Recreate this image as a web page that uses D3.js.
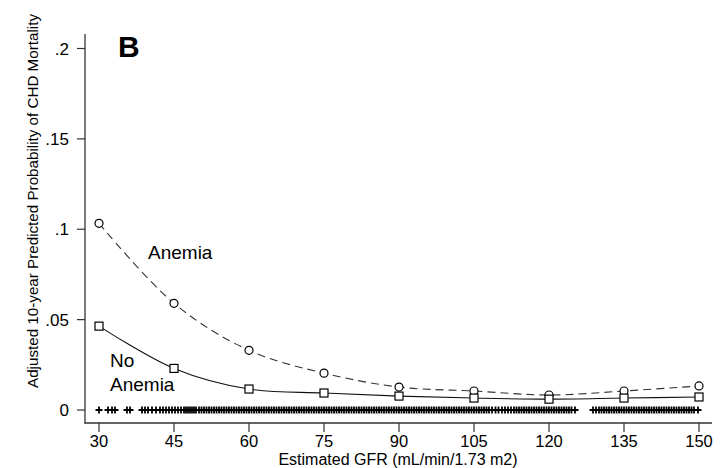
<!DOCTYPE html>
<html><head><meta charset="utf-8">
<script src="https://cdn.jsdelivr.net/npm/d3@7"></script>
<style>html,body{margin:0;padding:0;background:#fff}svg{display:block}text{font-family:"Liberation Sans",Arial,sans-serif;fill:#000}</style>
</head><body>
<script>
const gfr = [30, 45, 60, 75, 90, 105, 120, 135, 150];
const anemia = [0.1033, 0.059, 0.033, 0.0204, 0.0127, 0.0105, 0.0083, 0.0105, 0.0133];
const noAnemia = [0.0464, 0.023, 0.0116, 0.0094, 0.0077, 0.0066, 0.006, 0.0066, 0.0072];
const xTicks = [30, 45, 60, 75, 90, 105, 120, 135, 150];
const yTicks = [0, 0.05, 0.1, 0.15, 0.2];
const yTickLabels = ["0", ".05", ".1", ".15", ".2"];
const rug = [30, 31.8, 32.6, 33.2, 35.6, 36.2, 38.6, 39.2, 39.8, 40.6, 41.4, 42.2, 42.8, 43.4, 44, 44.6, 45.2, 45.8, 46.4, 47, 47.4, 47.8, 48.2, 48.6, 49, 49.4,
 50,50.5,51,51.5,52,52.5,53,53.5,54,54.5,55,55.5,56,56.5,57,57.5,58,58.5,59,59.5,
 60,60.5,61,61.5,62,62.5,63,63.5,64,64.5,65,65.5,66,66.5,67,67.5,68,68.5,69,69.5,
 70,70.5,71,71.5,72,72.5,73,73.5,74,74.5,75,75.5,76,76.5,77,77.5,78,78.5,79,79.5,
 80,80.5,81,81.5,82,82.5,83,83.5,84,84.5,85,85.5,86,86.5,87,87.5,88,88.5,89,89.5,
 90,90.5,91,91.5,92,92.5,93,93.5,94,94.5,95,95.5,96,96.5,97,97.5,98,98.5,99,99.5,
 100,100.5,101,101.5,102,102.5,103,103.5,104,104.5,105,105.5,106,106.5,107,107.5,108,108.6,109.3,109.9,
 110.6,111.2,111.8,112.4,113,113.5,114,114.5,115,115.5,116,116.5,117,117.5,118,118.5,119,119.5,
 120,120.5,121,121.5,122,122.5,123,123.5,124,124.5,125.2,
 128.8,129.4,130,130.5,131,131.5,132,132.5,133,133.5,134,134.5,135,135.5,136,136.5,137,137.5,138,138.5,139,139.5,
 140,140.5,141,141.5,142,142.5,143,143.5,144,144.5,145,145.5,146,146.5,147,147.5,148,148.5,149,149.8];

const W = 724, H = 468;
const svg = d3.select("body").append("svg").attr("width", W).attr("height", H);

const x = d3.scaleLinear().domain([30, 150]).range([99, 699]);
const y = d3.scaleLinear().domain([0, 0.2]).range([410, 48.5]);

// axes frame
const axisColor = "#333";
svg.append("line").attr("x1", 85).attr("x2", 85).attr("y1", 34).attr("y2", 423.5).attr("stroke", axisColor).attr("stroke-width", 1.3);
svg.append("line").attr("x1", 84.5).attr("x2", 712).attr("y1", 423).attr("y2", 423).attr("stroke", axisColor).attr("stroke-width", 1.3);

// y ticks
yTicks.forEach((t, i) => {
  svg.append("line").attr("x1", 77).attr("x2", 85).attr("y1", y(t)).attr("y2", y(t)).attr("stroke", axisColor).attr("stroke-width", 1.2);
  svg.append("text").attr("x", 69).attr("y", y(t)).attr("dy", "0.36em").attr("text-anchor", "end")
    .style("font-size", "17px").text(yTickLabels[i]);
});
// x ticks
xTicks.forEach(t => {
  svg.append("line").attr("x1", x(t)).attr("x2", x(t)).attr("y1", 423).attr("y2", 432).attr("stroke", axisColor).attr("stroke-width", 1.2);
  svg.append("text").attr("x", x(t)).attr("y", 446.5).attr("text-anchor", "middle")
    .style("font-size", "16.5px").text(t);
});

// titles
svg.append("text").attr("x", 398).attr("y", 464.5).attr("text-anchor", "middle")
  .style("font-size", "16px")
  .text("Estimated GFR (mL/min/1.73 m2)");
svg.append("text").attr("transform", "translate(38,201) rotate(-90)").attr("text-anchor", "middle")
  .style("font-size", "15.2px")
  .text("Adjusted 10-year Predicted Probability of CHD Mortality");

// panel label
svg.append("text").attr("x", 118).attr("y", 57).style("font-size", "30px").style("font-weight", "bold").text("B");

// rug
const rugG = svg.append("g");
rug.forEach(v => {
  rugG.append("path").attr("d", `M${x(v)-3.5},${y(0)}h7M${x(v)},${y(0)-3.5}v7`)
    .attr("stroke", "#000").attr("stroke-width", 1.8).attr("fill", "none");
});

// curves
const line = d3.line().x((d, i) => x(gfr[i])).y(d => y(d)).curve(d3.curveCatmullRom.alpha(0.5));
svg.append("path").attr("d", line(anemia)).attr("fill", "none").attr("stroke", "#333").attr("stroke-width", 1.1).attr("stroke-dasharray", "8,5");
svg.append("path").attr("d", line(noAnemia)).attr("fill", "none").attr("stroke", "#111").attr("stroke-width", 1.1);

// markers
svg.selectAll("circle.m").data(anemia).enter().append("circle")
  .attr("cx", (d, i) => x(gfr[i])).attr("cy", d => y(d)).attr("r", 4)
  .attr("fill", "#fff").attr("stroke", "#000").attr("stroke-width", 1.2);
svg.selectAll("rect.m").data(noAnemia).enter().append("rect")
  .attr("x", (d, i) => x(gfr[i]) - 4).attr("y", d => y(d) - 4).attr("width", 8).attr("height", 8)
  .attr("fill", "#fff").attr("stroke", "#000").attr("stroke-width", 1.2);

// series labels
svg.append("text").attr("x", 148).attr("y", 259).style("font-size", "19px").text("Anemia");
svg.append("text").attr("x", 110).attr("y", 367).style("font-size", "19px").text("No");
svg.append("text").attr("x", 110).attr("y", 391).style("font-size", "19px").text("Anemia");
</script>
</body></html>
